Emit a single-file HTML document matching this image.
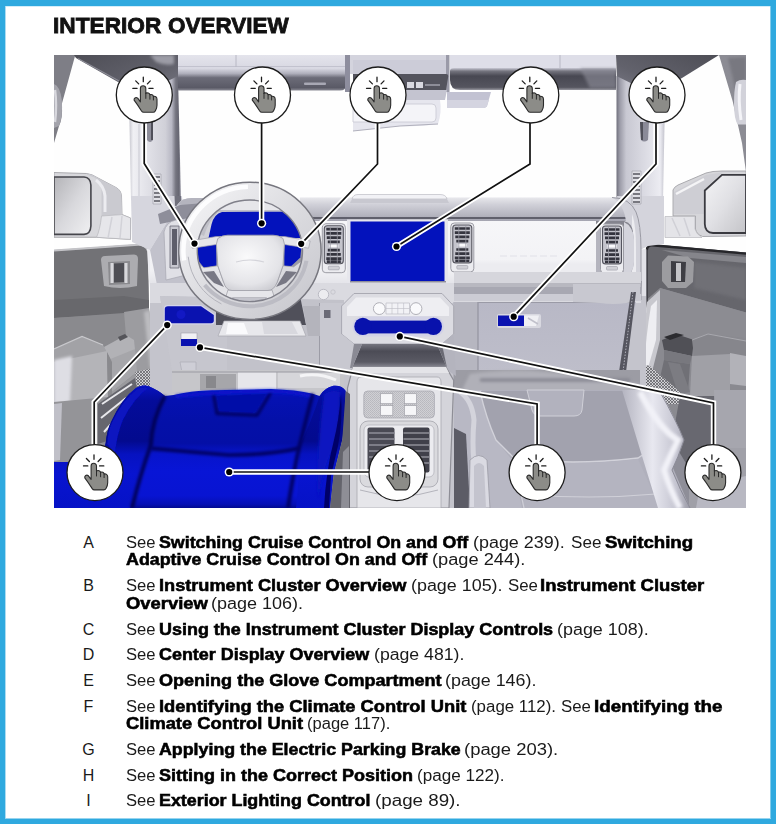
<!DOCTYPE html>
<html lang="en">
<head>
<meta charset="utf-8">
<title>Interior Overview</title>
<style>
html,body{margin:0;padding:0;}
body{width:776px;height:824px;overflow:hidden;background:#fff;position:relative;font-family:"Liberation Sans",Arial,sans-serif;color:#1a1a1a;}
#frame{position:absolute;left:0;top:0;width:776px;height:824px;}
#frame i{position:absolute;display:block;background:#2fa9df;}
h1{position:absolute;left:0;top:11.6px;margin:0;font-size:21.5px;line-height:28px;height:28px;width:400px;font-weight:bold;white-space:nowrap;color:#111;}
h1 span{position:absolute;top:0;display:block;transform-origin:0 50%;-webkit-text-stroke:0.8px #111;}
#fig{position:absolute;left:54px;top:55px;width:692px;height:453px;overflow:hidden;background:#fff;}
#fig svg{display:block;}
.ltr{position:absolute;left:80px;width:17px;text-align:center;font-size:16px;line-height:18px;}
.ln{position:absolute;left:0;font-size:16px;line-height:18px;white-space:nowrap;height:18px;width:760px;}
.ln span,.ln b,.ln i{position:absolute;top:0;display:block;transform-origin:0 50%;font-style:normal;font-weight:normal;}
.ln b{font-weight:bold;color:#000;-webkit-text-stroke:0.55px #000;}
</style>
</head>
<body>
<div id="frame"><i style="left:0;top:0;width:776px;height:6px"></i><i style="left:0;top:6px;width:776px;height:1px;background:#d3edf9"></i><i style="left:0;bottom:0;width:776px;height:5px"></i><i style="left:0;bottom:5px;width:776px;height:1px;background:#97d4ef"></i><i style="left:0;top:0;width:5px;height:824px"></i><i style="left:5px;top:6px;width:1px;height:812px;background:#acdcf2"></i><i style="right:0;top:0;width:5px;height:824px"></i><i style="right:5px;top:6px;width:1px;height:812px;background:#82cbeb"></i></div>
<h1 id="ttl"><span style="left:53.4px;transform:scaleX(1.055)">INTERIOR</span> <span style="left:167.8px;transform:scaleX(1.045)">OVERVIEW</span></h1>
<div id="fig">
<svg width="692" height="453" viewBox="54 55 692 453">
<defs>
<g id="hand">
<circle cx="0" cy="0" r="28" fill="#fff" stroke="#1c1c1c" stroke-width="1.3"/>
<path d="M-3.9,6.8 L-3.9,-6.6 A2.7,2.7 0 0 1 1.5,-6.6 L1.5,-1.6 C3.2,-2.6 5.2,-1.9 5.6,-0.3 C7.2,-1 8.8,-0.2 9.1,1.4 C10.8,0.9 12.7,2 12.7,4.2 L12.7,10.2 C12.7,13.2 11.7,14.6 10.9,16 Q10.3,17.3 8.9,17.3 L-0.6,17.3 Q-2,17.3 -2.8,16 C-4.2,13.8 -6.4,10.2 -10.2,5.2 C-10.6,3.4 -8.6,1.6 -6.6,3.2 Z" fill="#8c8c88" stroke="#2b2b2b" stroke-width="1.1" stroke-linejoin="round"/>
<path d="M1.5,-1.6 V3.4 M5.6,-0.3 V4.2 M9.1,1.4 V5" fill="none" stroke="#2b2b2b" stroke-width="1" stroke-linecap="round"/>
<path d="M-1,-17.8 V-13.3 M-11.5,-6.7 H-7.2 M4.6,-6.7 H8.8 M-8.6,-14.1 L-5.6,-11.1 M6,-14.1 L3.1,-11.1" fill="none" stroke="#1e1e1e" stroke-width="1.3" stroke-linecap="round"/>
</g>
<g id="dot"><circle r="4.6" fill="#fff"/><circle r="3.1" fill="#000"/></g>
</defs>
<defs>
<filter id="b1" filterUnits="userSpaceOnUse" x="40" y="40" width="720" height="480"><feGaussianBlur stdDeviation="0.7"/></filter>
<filter id="b2" filterUnits="userSpaceOnUse" x="40" y="40" width="720" height="480"><feGaussianBlur stdDeviation="1.6"/></filter>
<filter id="b3" filterUnits="userSpaceOnUse" x="40" y="40" width="720" height="480"><feGaussianBlur stdDeviation="3.5"/></filter>
<linearGradient id="gHdr" x1="0" y1="0" x2="0" y2="1">
<stop offset="0" stop-color="#e4e4ec"/><stop offset=".38" stop-color="#d8d8e2"/><stop offset=".52" stop-color="#b0b0bc"/><stop offset=".64" stop-color="#6c6c78"/><stop offset=".92" stop-color="#5a5a66"/><stop offset="1" stop-color="#8a8a94"/>
</linearGradient>
<linearGradient id="gHdr2" x1="0" y1="0" x2="0" y2="1">
<stop offset="0" stop-color="#e0e0ea"/><stop offset=".36" stop-color="#d4d4e0"/><stop offset=".46" stop-color="#74747e"/><stop offset=".6" stop-color="#484852"/><stop offset=".92" stop-color="#55555f"/><stop offset="1" stop-color="#9a9aa2"/>
</linearGradient>
<linearGradient id="gPilL" x1="0" y1="0" x2="1" y2="0">
<stop offset="0" stop-color="#c4c4cc"/><stop offset=".08" stop-color="#f0f0f4"/><stop offset=".3" stop-color="#e4e4ea"/><stop offset=".7" stop-color="#d0d0d8"/><stop offset=".82" stop-color="#b8b8c4"/><stop offset=".9" stop-color="#74747f"/><stop offset=".96" stop-color="#666672"/><stop offset="1" stop-color="#9a9aa6"/>
</linearGradient>
<linearGradient id="gPilR" x1="0" y1="0" x2="1" y2="0">
<stop offset="0" stop-color="#70707c"/><stop offset=".07" stop-color="#9c9ca8"/><stop offset=".2" stop-color="#c8c8d2"/><stop offset=".6" stop-color="#dcdce4"/><stop offset=".9" stop-color="#ececf2"/><stop offset="1" stop-color="#c0c0ca"/>
</linearGradient>
<linearGradient id="gRoofL" x1="0" y1="0" x2="1" y2="1">
<stop offset="0" stop-color="#4e4e56"/><stop offset=".6" stop-color="#62626c"/><stop offset="1" stop-color="#7c7c88"/>
</linearGradient>
<linearGradient id="gRoofR" x1="1" y1="0" x2="0" y2="1">
<stop offset="0" stop-color="#4e4e56"/><stop offset=".6" stop-color="#62626c"/><stop offset="1" stop-color="#80808c"/>
</linearGradient>
</defs>
<defs>
<linearGradient id="gMirL" x1="0" y1="0" x2="1" y2="1">
<stop offset="0" stop-color="#b4b4b8"/><stop offset=".5" stop-color="#d8d8dc"/><stop offset="1" stop-color="#f0f0f2"/>
</linearGradient>
<linearGradient id="gMirR" x1="0" y1="0" x2="1" y2="1">
<stop offset="0" stop-color="#f4f4f6"/><stop offset=".5" stop-color="#e0e0e4"/><stop offset="1" stop-color="#c4c4c8"/>
</linearGradient>
<linearGradient id="gDoorL" x1="0" y1="0" x2="0" y2="1">
<stop offset="0" stop-color="#b8b8bc"/><stop offset=".04" stop-color="#7c7c80"/><stop offset=".25" stop-color="#6e6e72"/><stop offset=".45" stop-color="#8a8a8e"/><stop offset="1" stop-color="#9a9a9e"/>
</linearGradient>
<linearGradient id="gDoorR" x1="0" y1="0" x2="0" y2="1">
<stop offset="0" stop-color="#3c3c40"/><stop offset=".05" stop-color="#5c5c60"/><stop offset=".25" stop-color="#77777c"/><stop offset=".5" stop-color="#7e7e84"/><stop offset="1" stop-color="#8a8a90"/>
</linearGradient>
<pattern id="mesh" width="3" height="3" patternUnits="userSpaceOnUse"><rect width="3" height="3" fill="#d0d0d4"/><path d="M0,0 L3,3 M3,0 L0,3" stroke="#55555a" stroke-width=".7"/></pattern>
</defs>
<defs>
<linearGradient id="gDashTop" x1="0" y1="0" x2="0" y2="1">
<stop offset="0" stop-color="#e8e8ec"/><stop offset=".3" stop-color="#d0d0d8"/><stop offset=".7" stop-color="#b8b8c2"/><stop offset="1" stop-color="#a4a4b0"/>
</linearGradient>
<linearGradient id="gDashFace" x1="0" y1="0" x2="0" y2="1">
<stop offset="0" stop-color="#f8f8fa"/><stop offset=".7" stop-color="#f2f2f5"/><stop offset="1" stop-color="#d4d4dc"/>
</linearGradient>
<linearGradient id="gGlove" x1="0" y1="0" x2="0" y2="1">
<stop offset="0" stop-color="#b8b8c6"/><stop offset="1" stop-color="#bebeca"/>
</linearGradient>
<linearGradient id="gCubby" x1="0" y1="0" x2="0" y2="1">
<stop offset="0" stop-color="#74747e"/><stop offset=".3" stop-color="#4c4c56"/><stop offset=".75" stop-color="#5a5a64"/><stop offset="1" stop-color="#90909a"/>
</linearGradient>
<g id="vent">
<rect x="0" y="0" width="23" height="49" rx="3.500" fill="#ececf0" stroke="#9c9ca4" stroke-width="1"/>
<rect x="2" y="2" width="19" height="38" rx="3" fill="#c4c4cc" stroke="#55555f" stroke-width="1.100"/>
<path d="M4,5.500 H19 M4,9.700 H19 M4.500,13.900 H18.500 M5.500,18.100 H17.500 M5.500,26.500 H17.500 M4.500,30.700 H18.500 M4,34.900 H19 M4.500,38 H18.500" stroke="#34343e" stroke-width="2.700"/>
<path d="M7,22.300 H16" stroke="#fafafc" stroke-width="2.600"/>
<path d="M8,3 V39 M15,3 V39" stroke="#9a9aa4" stroke-width=".8"/>
<rect x="6" y="42.500" width="11" height="3.600" rx="1" fill="#d0d0d6" stroke="#9a9aa4" stroke-width=".6"/>
</g>
</defs>
<defs>
<linearGradient id="gRim" x1="0" y1="0" x2="1" y2="1">
<stop offset="0" stop-color="#f4f4f6"/><stop offset=".5" stop-color="#dcdce0"/><stop offset="1" stop-color="#c8c8ce"/>
</linearGradient>
<radialGradient id="gHub" cx=".45" cy=".4" r=".7">
<stop offset="0" stop-color="#fafafb"/><stop offset=".7" stop-color="#e4e4e8"/><stop offset="1" stop-color="#c8c8ce"/>
</radialGradient>
<linearGradient id="gSeatB" gradientUnits="userSpaceOnUse" x1="0" y1="386" x2="0" y2="508">
<stop offset="0" stop-color="#0814c8"/><stop offset=".1" stop-color="#0511b2"/><stop offset=".3" stop-color="#0410a8"/><stop offset=".47" stop-color="#040fa6"/><stop offset=".56" stop-color="#0714cc"/><stop offset=".7" stop-color="#0815d6"/><stop offset=".9" stop-color="#0814d2"/><stop offset=".97" stop-color="#0610b4"/><stop offset="1" stop-color="#020a90"/>
</linearGradient>
<linearGradient id="gBol" gradientUnits="userSpaceOnUse" x1="0" y1="386" x2="0" y2="508">
<stop offset="0" stop-color="#0812c0"/><stop offset=".12" stop-color="#040c9a"/><stop offset=".45" stop-color="#030a8e"/><stop offset=".56" stop-color="#0612c0"/><stop offset=".72" stop-color="#0814d0"/><stop offset="1" stop-color="#0612c6"/>
</linearGradient>
<linearGradient id="gSeatP" x1="0" y1="0" x2="0" y2="1">
<stop offset="0" stop-color="#9e9eaa"/><stop offset=".3" stop-color="#a8a8b4"/><stop offset="1" stop-color="#b0b0bc"/>
</linearGradient>
<linearGradient id="gBolR" x1="0" y1="0" x2="1" y2="0">
<stop offset="0" stop-color="#b4b4c0"/><stop offset=".45" stop-color="#e8e8f0"/><stop offset=".8" stop-color="#c4c4d0"/><stop offset="1" stop-color="#9a9aa6"/>
</linearGradient>
<pattern id="tex" width="2" height="2" patternUnits="userSpaceOnUse"><rect width="2" height="2" fill="#d0d0d4"/><rect width="1" height="1" fill="#b8b8be"/><rect x="1" y="1" width="1" height="1" fill="#bcbcc2"/></pattern>
</defs>
<g id="top">
<rect x="54" y="55" width="692" height="453" fill="#fefefe"/>
<!-- left door frame strip -->
<path d="M54,55 H75.300 L61.800,104 Q63,118 59,126 L54,143 Z" fill="#7e7e86"/>
<path d="M54,84 Q60,86 61.800,100 Q63,116 59,126 L54,128 Z" fill="#a4a4ac"/>
<path d="M55,90 Q57,105 55,122" stroke="#d8d8de" stroke-width="2.500" fill="none" filter="url(#b1)"/>
<!-- left roof dark band -->
<path d="M74,55 H178 V78 L172,100 L118,82 L76,58 Z" fill="url(#gRoofL)"/>
<path d="M150,55 H174 V64 Q166,66 156,62 Z" fill="#9c9ca6" filter="url(#b2)"/>
<path d="M78,58.500 L120,81.500" stroke="#8c8c96" stroke-width="1.200" fill="none"/>
<!-- left A pillar upper -->
<path d="M129,100 L178,76 L181,200 L131,200 Z" fill="url(#gPilL)"/>
<path d="M147,122 h6 v18 q-3,4 -6,0 Z" fill="#8e8e9a" filter="url(#b1)"/>
<path d="M151,122 h2 v18 h-2 Z" fill="#50505a"/>
<path d="M139,124 V200" stroke="#c0c0ca" stroke-width=".8"/>
<!-- header left -->
<path d="M178,55 H346 V85 Q346,90.500 340,90.500 H178 Z" fill="url(#gHdr)"/>
<path d="M178,66.500 H346" stroke="#c2c2ce" stroke-width="1" fill="none"/>
<path d="M236,55 V67" stroke="#b8b8c4" stroke-width="1" fill="none"/>
<rect x="304" y="82.500" width="22" height="2.500" rx="1" fill="#a8a8b4"/>
<!-- overhead console -->
<path d="M345,55 H448 V74 H345 Z" fill="#d4d4de"/>
<path d="M345,55 H350 V92 H345 Z" fill="#8e8e9e"/><path d="M446,55 H449.500 V92 H446 Z" fill="#9a9aa8"/>
<path d="M353,60 H446 V78 H353 Z" fill="#ccccd8"/>
<path d="M353,74 H446 Q449,74 448,78 L446,90 H353 Z" fill="#54545e"/>
<rect x="407" y="82" width="7" height="6" fill="#d8d8e0"/><rect x="416" y="82" width="7" height="6" fill="#d8d8e0"/>
<path d="M425,85 H440" stroke="#a0a0ac" stroke-width="1.500"/>
<path d="M353,90 H447 L445,100 H353 Z" fill="#c4c4d0"/>
<path d="M353,100 H440 Q442,112 438,124 Q420,127 400,126 L353,131 Z" fill="#e6e6ee"/>
<path d="M353,104 H432 Q436,104 436,108 V118 Q436,122 432,122 H353 Z" fill="#f4f4f8" stroke="#c8c8d2" stroke-width=".8"/>
<path d="M353,131 L400,126 L438,124" stroke="#b0b0bc" stroke-width="1" fill="none"/>
<!-- mirror back right of console -->
<path d="M447,92 H491 L487,106 Q486,108 482,108 H447 Z" fill="#c2c2d2"/>
<path d="M447,100 H489 L487,106 Q486,108 482,108 H447 Z" fill="#d4d4e0"/>
<!-- header right -->
<path d="M456,55 H616 V90 H462 Q450,91 450,80 V70 Q450,66 456,66 Z" fill="url(#gHdr2)"/>
<path d="M450,55 H616 V68 H454 Q450,68 450,71 Z" fill="#dedee8"/>
<path d="M560,55 V68" stroke="#b8b8c4" stroke-width="1" fill="none"/>
<path d="M580,68 H616 V88 H590 Z" fill="#8e8e9a" opacity=".6" filter="url(#b2)"/>
<!-- right roof dark band -->
<path d="M616,55 H719 L682,78 L640,100 L618,100 Z" fill="url(#gRoofR)"/>
<!-- right A pillar upper -->
<path d="M616.500,76 L665,100 L663,200 L616.500,200 Z" fill="url(#gPilR)"/>
<path d="M640,122 h9 l-1,18 q-4,3 -7,0 Z" fill="#8a8a98" filter="url(#b1)"/>
<path d="M640,122 h3 l0,18 h-2 Z" fill="#50505a"/>
<!-- right door frame -->
<path d="M719,55 H746 V172 L742,143 L732.600,101 Z" fill="#8c8c94"/>
<path d="M728,58 L746,57 V80 L736,92 Z" fill="#787880" filter="url(#b2)"/>
<path d="M736,82 Q734,90 734,104 Q734,120 738,124.500 H746 V80 Q740,79 736,82 Z" fill="#d2d2da"/>
<path d="M740,84 Q738,100 741,120" stroke="#f4f4f8" stroke-width="3" fill="none" filter="url(#b1)"/>
</g>
<g id="sides">
<!-- LEFT MIRROR -->
<path d="M54,172.500 L86.600,173.500 Q92,174 98,178 L116,187.500 Q121,190 121.500,196 L122,214.600 L130.500,218 V239.400 L96.500,237.300 H54 Z" fill="#d8d8dc" stroke="#9a9aa0" stroke-width=".8"/>
<path d="M86.600,173.500 Q92,174 98,178 L116,187.500 Q121,190 121.500,196 L122,214.600 L101.500,216 V188 Q100,178 90,176 Z" fill="#cacad0"/>
<path d="M96,180 Q104,186 105,196 V212" stroke="#ececf0" stroke-width="3" fill="none" filter="url(#b1)"/>
<path d="M54,177 H84 Q90.500,177.500 90.900,185 V226 Q90.500,234 84,234.400 H54 Z" fill="url(#gMirL)" stroke="#46464c" stroke-width="1.600"/>
<path d="M101.500,216 L122,214.600 L130.500,218 V239.400 L96.500,237.300 Q100,230 101.500,216 Z" fill="#e6e6ea" stroke="#b0b0b6" stroke-width=".6"/>
<path d="M112,217 L108,238 M122,216 L120,238" stroke="#d2d2d8" stroke-width="1.500"/>
<!-- LEFT DOOR -->
<path d="M54,250 L138,244.200 Q146,244 148,251 L149,310 L160,394 L150,430 L96,462 L54,462 Z" fill="#8c8c90"/>
<!-- upper dark -->
<path d="M54,251 L138,245.200 Q146,245 147.500,251 L149,308 L124,312 L54,316 Z" fill="#727276"/>
<path d="M54,300 L124,296 L149,300 L149,310 L124,314 L54,318 Z" fill="#68686c" filter="url(#b1)"/>
<path d="M54,250.500 L138,244.700 Q146,244.500 148,251" stroke="#c4c4c8" stroke-width="2" fill="none"/>
<!-- door handle recess -->
<path d="M101,260 Q101,256 105,256 L134,254.500 Q138,254.500 138,259 L137,286 Q120,290 104,286 Z" fill="#acacb0"/>
<path d="M108,262 L130,261 L130,284 L109,285 Z" fill="#8a8a8e"/>
<path d="M114,263.500 L124,263 L124,282 L114,282.500 Z" fill="#4e4e54"/>
<path d="M110.500,263 h3 v20 h-3z M124.500,263 h3 v20 h-3z" fill="#d8d8dc"/>
<!-- mid panel -->
<path d="M54,318 L124,313 L126,336 L104,350 L88,338 L54,350 Z" fill="#8a8a8e"/>
<!-- lighter front-lower part -->
<path d="M124,312 L149,308 L158,372 L135,372 L133,348 L126,336 Z" fill="#9c9ca0"/>
<path d="M144,312 L150,310 L157,368 L150,368 Z" fill="#bcbcc0" filter="url(#b2)"/>
<!-- armrest -->
<path d="M54,349 L82,336.500 L103,345 L107,352 L54,366 Z" fill="#a2a2a6"/>
<path d="M54,349 L82,336.500 L103,345" stroke="#c8c8cc" stroke-width="1.200" fill="none"/>
<path d="M54,362 L107,351 L108,398 L54,404 Z" fill="#b4b4b8"/>
<path d="M54,360 L72,356 L70,402 L54,404 Z" fill="#dedee4" filter="url(#b2)"/>
<path d="M54,402 L108,397 L100,462 L54,462 Z" fill="#949498"/>
<path d="M54,404 L62,403 L60,460 L54,461 Z" fill="#c0c0c8" filter="url(#b1)"/>
<!-- door pull -->
<path d="M104,347 L126,335 L134,340 L135,350 L112,362 Z" fill="#b2b2b6"/>
<path d="M118,337 L125,334 L128,337 L120,341 Z" fill="#55555a"/>
<path d="M108,360 L135,349 L137,372 L112,392 Z" fill="#a6a6aa"/>
<path d="M107,352 L112,362 L112,394 L108,400 Z" fill="#8a8a8e"/>
<!-- lower door -->
<path d="M112,392 L137,372 L140,394 L112,400 Z" fill="#9a9a9e"/>
<!-- door pocket mesh -->
<path d="M135,372 L154,368 L158,394 L138,396 Z" fill="url(#mesh)"/>
<path d="M138,394 L110,440 L98,444 L98,404 L135,378 Z" fill="#66666e"/>
<path d="M102,404 L132,384 M101,418 L126,398 M104,432 L120,414" stroke="#e8e8ec" stroke-width="2" fill="none" filter="url(#b1)"/>
<!-- left jamb -->
<path d="M147,249 L153,247 Q160,300 168,394 L159,394 Q156,330 149,281 Z" fill="#ececf0"/>
<path d="M153,247 L157,247 Q163,300 171,394 L167,394 Q160,310 153,247 Z" fill="#c0c0c8"/>

<!-- RIGHT MIRROR -->
<path d="M673,190 Q674,187 678,185 L706,173 Q712,171 722,171 H746 V236 L702.600,236.500 Q696,234 695.500,229 V216 H673 Z" fill="#d6d6da" stroke="#9a9aa0" stroke-width=".8"/>
<path d="M674,192 L706,175 L722,172.500 L704,189 V214 H674 Z" fill="#ceced4"/>
<path d="M676,194 L704,179" stroke="#f4f4f6" stroke-width="2.500" filter="url(#b1)"/>
<path d="M746,174.800 H722 L704.800,190.500 V224 Q705,232.800 713,233 H746 Z" fill="url(#gMirR)" stroke="#3a3a40" stroke-width="1.800"/>
<path d="M665,216.500 H695 V229 Q696,234 702,237.500 H665 Z" fill="#e4e4e8" stroke="#b0b0b6" stroke-width=".6"/>
<path d="M672,218 L680,236 M684,218 L690,236" stroke="#d0d0d6" stroke-width="1.500"/>
<!-- RIGHT DOOR -->
<path d="M646.300,249 Q647,244 652,244.300 L746,252.600 V508 H690 L660,400 L640,400 L638,363 Q642,330 646.300,312 Z" fill="#8a8a90"/>
<!-- upper dark band -->
<path d="M646.300,249 Q647,244 652,244.300 L746,252.600 V312.600 L660,288 L646.300,300 Z" fill="#66666c"/>
<path d="M694,262 L746,268 V300 L694,288 Z" fill="#707076" filter="url(#b2)"/>
<path d="M662,250 L746,257 V263 L690,258 Z" fill="#85858b" filter="url(#b1)"/>
<path d="M646.800,250 Q647.500,245 652,245.300 L746,253.600" stroke="#26262a" stroke-width="2.400" fill="none"/>
<path d="M647,250 V310" stroke="#3a3a40" stroke-width="1.600"/>
<!-- handle bezel -->
<path d="M662,262 L668,255.500 L688,256.500 L694,262 L693,282 L686,288 L668,288 L662,281 Z" fill="#9c9ca0"/>
<path d="M671,261 L686,262 L685,282 L671,282 Z" fill="#3e3e44"/>
<path d="M676,263 h5 v18 h-5z" fill="#c4c4c8"/>
<!-- mid -->
<path d="M660,288 L746,312.600 V338 L708,334 L692,340 L676,334 L660,338 Z" fill="#8c8c92"/>
<!-- light front edge strip -->
<path d="M647,302 L660,290 L660,340 L652,372 L639,372 Q641,335 647,302 Z" fill="#c8c8ce"/>
<path d="M651,306 L657,300 L656,340 L648,368 L644,368 Q646,335 651,306 Z" fill="#eeeef2" filter="url(#b1)"/>
<!-- door pull dark -->
<path d="M662,340 L676,334 L694,340 L692,356 L664,350 Z" fill="#505056"/>
<path d="M664,337 L676,333 L684,335 L670,340 Z" fill="#2c2c30"/>
<path d="M664,350 L692,356 L690,364 L664,360 Z" fill="#78787e"/>
<!-- armrest -->
<path d="M692,340 L708,334 L746,341 V358 L694,356 Z" fill="#86868c"/>
<path d="M692,340 L708,334 L746,341" stroke="#a8a8ae" stroke-width="1" fill="none"/>
<path d="M730,353 L746,356 V386 L730,384 Z" fill="#b2b2b8"/>
<path d="M692,356 L730,354 L730,396 L690,396 Z" fill="#a0a0a6"/>
<!-- strap / dark lower-left -->
<path d="M664,360 L690,364 L688,392 L672,394 L660,378 Z" fill="#707076"/>
<path d="M668,362 L680,364 L690,392 L678,394 Z" fill="#7c7c82"/>
<!-- mesh -->
<path d="M638,363 L650,366 L680,392 L690,404 H640 Z" fill="url(#mesh)"/>
<!-- lower door -->
<path d="M664,420 L692,440 L692,508 H664 Z" fill="#8e8e98"/>
<path d="M680,396 L714,396 L716,448 L690,470 L672,440 Z" fill="#686870"/>
<path d="M714,390 H746 V450 H716 Z" fill="#a6a6ae"/>
<path d="M689,470 L716,448 H746 V508 H689 Z" fill="#a0a0a8"/>
<path d="M700,486 L746,476 V508 H696 Z" fill="#b8b8c2" filter="url(#b1)"/>
<!-- right jamb -->
<path d="M634,250 L646.300,249 V312 Q642,330 638,363 L630,372 Z" fill="#e2e2e8"/>
<path d="M638,281 L642,281 Q640,320 634,366 L630,370 Z" fill="#a0a0aa"/>
</g>
<g id="dash">
<path d="M150,296 H646 V508 H150 Z" fill="#c4c4cc"/>
<!-- lower pillar left & right continuing -->
<path d="M131,196 L182,196 L186,250 L150,250 L132,242 Z" fill="#d6d6de"/>
<path d="M174.500,196 L181,196 L181.500,205 L175,206 Z" fill="#70707c"/>
<path d="M153,174 h8 v30 h-8z" fill="#e0e0e6" stroke="#9a9aa4" stroke-width=".6"/>
<path d="M154,177 h6 M154,181 h6 M154,185 h6 M154,189 h6 M154,193 h6 M154,197 h6 M154,201 h6" stroke="#55555f" stroke-width="1.600"/>
<path d="M617,196 L664,196 L664,244 L648,246 L640,250 L622,250 Z" fill="#d4d4dc"/>
<path d="M632,171 h9 v33 h-9z" fill="#e0e0e6" stroke="#9a9aa4" stroke-width=".6"/>
<path d="M633,174 h7 M633,178 h7 M633,182 h7 M633,186 h7 M633,190 h7 M633,194 h7 M633,198 h7 M633,202 h7" stroke="#55555f" stroke-width="1.600"/>
<!-- dash main body -->
<path d="M150,250 L178,204 Q182,198 192,198 L300,197.500 H612 Q630,198 636,212 Q641,224 641,250 L641,300 L150,300 Z" fill="url(#gDashFace)"/>
<!-- dash top band -->
<path d="M300,197.500 H612 Q626,198 632,206 L637,221 H300 Z" fill="url(#gDashTop)"/>
<path d="M358,194.500 H440 Q446,194.500 447,199 H352 Q353,194.500 358,194.500 Z" fill="#f2f2f6" stroke="#b4b4bc" stroke-width=".6"/>
<path d="M352,199 H447 L449,203 H350 Z" fill="#c8c8d0"/>
<path d="M310,218 H631" stroke="#60606c" stroke-width="2" fill="none"/>
<!-- left of wheel dash -->
<path d="M150,250 L178,204 Q182,198 192,198 L230,198 L200,230 L190,300 L160,300 Z" fill="#c2c2cc"/>
<path d="M178,204 Q182,198 192,198 L230,198 L222,204 L186,206 Z" fill="#b4b4be"/>
<path d="M158,214 L180,205 L204,203 L198,216 L160,224 Z" fill="#8e8e9a" filter="url(#b1)"/>
<path d="M164,232 Q166,222 176,220 L190,222 L186,275 L166,280 Z" fill="#e0e0e6" stroke="#a8a8b2" stroke-width=".7"/>
<path d="M170,226 h9 v42 h-9z" fill="#c8c8d0" stroke="#6a6a76" stroke-width=".8"/>
<path d="M172,229 h5 v36 h-5z" fill="#5e5e6a"/>
<path d="M186,226 L196,224 L198,270 L188,276 Z" fill="#babac4"/>
<!-- dash right end cap -->
<path d="M612,197.500 Q630,198 636,212 Q641,224 641,250 V300 H626 V222 Q624,204 612,197.500 Z" fill="#d2d2da"/>
<path d="M632,214 Q636,224 636,250 V296 H632 Z" fill="#ececf0" filter="url(#b1)"/>
<path d="M612,197.500 Q630,198 636,212 Q641,224 641,250 V300" stroke="#9a9aa4" stroke-width="1" fill="none"/>
<!-- passenger dash face subtle -->
<path d="M500,256 h60" stroke="#e2e2e8" stroke-width="1.200" stroke-dasharray="7 3"/>
<path d="M454,262 H626 V274 H454 Z" fill="#ececf0" filter="url(#b2)"/>
<!-- center screen -->
<rect x="347" y="219.500" width="101" height="64" fill="#e6e6ec"/>
<rect x="350.500" y="221.500" width="94" height="59.500" fill="#0312bc"/>
<path d="M350,281.800 H446" stroke="#8e8e9a" stroke-width="1.400"/>
<!-- vents -->
<use href="#vent" x="322.300" y="223.700"/>
<use href="#vent" x="450.800" y="223"/>
<path d="M596,221 H624 Q633,224 634,240 V262 Q633,276 622,279 H596 Z" fill="#b4b4be"/>
<path d="M596,221 H624 Q632,223 633,232 L596,228 Z" fill="#84848e" filter="url(#b1)"/>
<path d="M624,222 Q633,226 634,240 V262 Q633,274 624,278 Z" fill="#d4d4dc"/>
<use href="#vent" x="600.500" y="224"/>

<!-- lower dash bands -->
<path d="M150,283 H641 V303 H150 Z" fill="#dadae0"/>
<path d="M454,272 H641 V284 H454 Z" fill="#d6d6dc"/>
<path d="M454,283 H641 V294.500 H454 Z" fill="#a8a8b2"/>
<path d="M454,283 H641 V287 H454 Z" fill="#b8b8c0" filter="url(#b1)"/>
<path d="M454,294 H641 V301 H454 Z" fill="#ccccd4"/>
<path d="M303,301.500 H344" stroke="#f2f2f6" stroke-width="2.400"/>
<path d="M303,303.500 H344" stroke="#a8a8b2" stroke-width="1"/>
<path d="M300,304 H344 V312 H300 Z" fill="#b8b8c0"/>
<!-- knee panel driver side -->
<path d="M160,296 L344,300 V372 L172,372 Z" fill="#c2c2ca"/>
<path d="M160,296 L227,298 V372 H172 Z" fill="#c6c6ce"/>
<path d="M319.500,303 V372" stroke="#9c9ca6" stroke-width="1"/>
<path d="M320,303 H344 V372 H320 Z" fill="#c8c8d0"/>
<rect x="324" y="310" width="6.500" height="8" fill="#6a6a76"/>
<circle cx="323.500" cy="294.500" r="5.200" fill="#ececf0" stroke="#b0b0ba" stroke-width=".8"/>
<circle cx="333" cy="292" r="2.200" fill="none" stroke="#c0c0c8" stroke-width=".8"/>
<!-- blue button panel -->
<path d="M167.500,305 H201.500 L214.800,314.200 V321 Q214.800,324.500 211,324.500 H167.500 Q163.800,324.500 163.800,321 V308.500 Q163.800,305 167.500,305 Z" fill="#d4d4ea"/>
<path d="M168,306.200 H201 L213.800,315 V320.500 Q213.800,323.200 211,323.200 H168 Q164.800,323.200 164.800,320.500 V309 Q164.800,306.200 168,306.200 Z" fill="#0a12b0"/>
<circle cx="181" cy="314.500" r="4.500" fill="#1218c4"/>
<!-- small switch -->
<rect x="181" y="333" width="16" height="7" fill="#f0f0f4" stroke="#a0a0aa" stroke-width=".6"/>
<rect x="181" y="339" width="16" height="7" fill="#0a12b0"/>
<path d="M180,362 h16 v10 h-14z" fill="#ceced6" stroke="#a8a8b2" stroke-width=".6"/>
<!-- glove box region -->
<path d="M453.500,302 H636 L622,372 H453.500 Z" fill="url(#gGlove)"/>
<path d="M453.500,302 H478 V372 H453.500 Z" fill="#b6b6c0"/>
<path d="M478,302 V372" stroke="#8c8c98" stroke-width="1"/>
<path d="M478,302.500 H632" stroke="#9a9aa6" stroke-width="1"/>
<path d="M573,284 H640 V300 Q620,306 600,303 L573,302 Z" fill="#c8c8d0"/>
<!-- glove handle -->
<rect x="497" y="314" width="44" height="14" rx="2" fill="#d8d8e0"/>
<rect x="498" y="315.500" width="26" height="10.500" fill="#0a12b0"/>
<path d="M524,315.500 H539 L536,326 H524 Z" fill="#f0f0f4"/>
<path d="M528,318 L538,324" stroke="#c0c0ca" stroke-width="1.500"/>
<!-- net right of glove box -->
<path d="M631,292 L636,292 L626,372 L619,372 Z" fill="#55555f"/>
<path d="M633,292 L623,372" stroke="#b0b0ba" stroke-width="1" stroke-dasharray="1.500 1.500"/>
<!-- kick area under glovebox -->
<path d="M453.500,370 H640 V394 H453.500 Z" fill="#9c9ca4"/>
<path d="M470,374 Q520,366 580,376 L640,384 V394 H460 Z" fill="#b0b0b8" filter="url(#b2)"/>
<path d="M480,380 H630" stroke="#84848e" stroke-width="3" filter="url(#b2)"/>
<!-- driver footwell -->
<path d="M172,370 H344 V392 H172 Z" fill="#c6c6ca"/>
<path d="M200,374 H236 V390 H200 Z" fill="#a6a6aa"/>
<path d="M206,376 h10 v12 h-10z" fill="#88888c"/>
<path d="M238,372 H276 V390 H238 Z" fill="#e6e6ea"/>
<path d="M278,372 H340 V388 H278 Z" fill="#d6d6da"/>
<path d="M300,376 Q318,372 336,380" stroke="#f4f4f6" stroke-width="3" fill="none" filter="url(#b1)"/>
<path d="M172,372 H344" stroke="#9a9aa2" stroke-width="1"/>
</g>
<g id="wheel">
<!-- dark shadow behind wheel bottom / column -->
<path d="M216,300 L300,296 L306,325 L216,325 Z" fill="#50505a"/>
<!-- inside-rim background -->
<ellipse cx="249.900" cy="250.800" rx="55" ry="53" fill="#d2d2d8"/>
<!-- hood above cluster -->
<path d="M196,232 Q204,206 226,202 H278 Q298,206 306,228 L292,212 H218 Q208,222 204,236 Z" fill="#c0c0c8"/>
<path d="M212,205 Q250,196 290,205 L292,210 H214 Z" fill="#e6e6ea"/>
<!-- instrument cluster blue upper -->
<path d="M208.500,238 L211.500,224.500 Q214,214 222,212 L290,211.700 Q294,212 296.800,219.300 L306.100,229.600 L304.400,238 Z" fill="#0312bc"/>
<!-- lower openings: gray stuff -->
<path d="M194,246 L217,244 L232,296 L206,290 L194,268 Z" fill="#a2a2ac"/>
<path d="M306,246 L283,244 L268,296 L294,290 L306,268 Z" fill="#9a9aa4"/>
<!-- lower blue bits -->
<path d="M194.700,247.200 L216.400,243.500 V265.700 L204,267.800 L195.800,257.500 Z" fill="#0312bc"/>
<path d="M284.400,243.500 L301.400,247.200 L300.300,257.500 L291.600,265.700 L284.400,266.800 Z" fill="#0312bc"/>
<!-- column shroud below wheel -->
<path d="M224,321 H300 L306,336 H218 Z" fill="#e8e8ec" stroke="#a8a8b0" stroke-width=".7"/>
<path d="M228,323 h16 l4,11 h-22z" fill="#fafafc"/>
<path d="M262,322 h30 l6,12 h-34z" fill="#d8d8de"/>
<path d="M303,306 L320,306 V336 L308,336 Z" fill="#b4b4bc"/>
<!-- lower side spokes -->
<path d="M217.800,265.700 L204,267.800 L196.500,262 L197.800,273 L207.100,285.500 L225.700,299.500 L231,291 L223.600,282.200 Z" fill="#e4e4e8" stroke="#9c9ca4" stroke-width=".7"/>
<path d="M283,265.700 L293.700,266.800 L301.500,261 L300.900,273 L292.700,285.500 L275.200,299.500 L270,291 L277.200,282.200 Z" fill="#dadade" stroke="#9c9ca4" stroke-width=".7"/>
<path d="M203,272 L214,271 L224,287 L214,283 Z" fill="#787884"/>
<path d="M297,272 L286,271 L276,287 L286,283 Z" fill="#787884"/>
<!-- lower center spoke -->
<path d="M228,290 H272 L279,311 H221 Z" fill="#e6e6ea" stroke="#9c9ca4" stroke-width=".7"/>
<path d="M232.500,297.500 H266.500 L262,305.500 H237 Z" fill="#c4c4cc" stroke="#a0a0a8" stroke-width=".5"/>
<!-- rim -->
<ellipse cx="249.900" cy="250.800" rx="61.900" ry="59.700" fill="none" stroke="url(#gRim)" stroke-width="18.200"/>
<ellipse cx="249.900" cy="250.800" rx="71.200" ry="68.600" fill="none" stroke="#76767e" stroke-width="1.500"/>
<ellipse cx="249.900" cy="250.800" rx="52.600" ry="50.800" fill="none" stroke="#80808a" stroke-width="1.400"/>
<ellipse cx="249.900" cy="250.800" rx="66.500" ry="64" fill="none" stroke="#fdfdfe" stroke-width="4.500" stroke-dasharray="110 300" stroke-dashoffset="-195"/>
<ellipse cx="249.900" cy="250.800" rx="57.500" ry="55.400" fill="none" stroke="#bcbcc4" stroke-width="4" stroke-dasharray="130 240" stroke-dashoffset="-10"/>
<ellipse cx="249.900" cy="250.800" rx="62" ry="59.800" fill="none" stroke="#b4b4bc" stroke-width="1" stroke-dasharray="60 330" stroke-dashoffset="-125"/>
<!-- horizontal spokes -->
<path d="M190.600,241 L216.400,236.500 L284.400,236.500 L310.200,241 L308.600,248.200 L284.400,244.500 L216.400,244.500 L192.300,248.200 Z" fill="#e6e6ea" stroke="#a4a4ac" stroke-width=".7"/>
<!-- hub -->
<path d="M216.400,244.100 L217.800,238.500 Q222,235.200 227.700,235.200 L273.100,235.200 Q279,235.200 283,238.500 L284.400,244.100 L283,265.700 L277.200,282.200 Q274,290.500 268,290.500 L232,290.500 Q226,290.500 223.600,282.200 L217.800,265.700 Z" fill="url(#gHub)" stroke="#a4a4ac" stroke-width=".9"/>
<path d="M236,262 Q250,258 264,262" stroke="#d4d4da" stroke-width="1.200" fill="none"/>
</g>
<g id="console">
<!-- center stack bezel -->
<path d="M341.600,306 L354,293.500 H442 L453.700,306 V334 L442,344 H354 L341.600,334 Z" fill="#dcdce2" stroke="#a4a4ae" stroke-width=".9"/>
<path d="M347,307 L356,297.500 H440 L449,307 V316 H347 Z" fill="#eeeef2"/>
<circle cx="379.300" cy="308.600" r="5.900" fill="#fafafc" stroke="#a8a8b0" stroke-width=".9"/>
<circle cx="416" cy="308.600" r="5.900" fill="#fafafc" stroke="#a8a8b0" stroke-width=".9"/>
<path d="M386,303 h23.500 v11 h-23.500z" fill="#f2f2f6" stroke="#bcbcc4" stroke-width=".7"/>
<path d="M392,303 v11 M397.800,303 v11 M403.600,303 v11 M386,308.500 h23.500" stroke="#bcbcc4" stroke-width=".6"/>
<!-- climate blue bar -->
<rect x="352.500" y="316.500" width="91.500" height="20" rx="9.500" fill="#d2d2e6"/>
<rect x="362" y="320.600" width="72" height="12.800" fill="#0812ac"/>
<circle cx="362.900" cy="326.400" r="8.600" fill="#0812ac"/>
<circle cx="433.400" cy="326.400" r="8.600" fill="#0812ac"/>
<!-- cubby -->
<path d="M341.600,334 L354,344 L350,370 L340,376 Z" fill="#c8c8d0"/>
<path d="M453.700,334 L442,344 L447,370 L456,376 Z" fill="#b4b4be"/>
<path d="M362,344 H437 L447,368 H352 Z" fill="url(#gCubby)"/>
<path d="M354,344 H362 L352,368 H350 Z" fill="#8a8a94"/>
<path d="M437,344 H442 L447,368 Z" fill="#6a6a74"/>
<!-- console body -->
<path d="M353,367 H446 L453.700,380.500 L449,508 H349 L347.500,388 Z" fill="#d4d4da" stroke="#8e8e96" stroke-width="1.200"/>
<path d="M353,367 H446 L449,373 H351 Z" fill="#e4e4e8"/>
<path d="M361,377 H437 Q441,377 441,382 V508 H357 V382 Q357,377 361,377 Z" fill="#e6e6ea" stroke="#a8a8b0" stroke-width=".8"/>
<!-- window switch panel -->
<rect x="363.800" y="391" width="70.600" height="27" rx="4" fill="url(#tex)" stroke="#a4a4ac" stroke-width=".7"/>
<rect x="380.600" y="393.700" width="12.200" height="10" fill="#f6f6f8" stroke="#a0a0a8" stroke-width=".7"/>
<rect x="380.600" y="405.600" width="12.200" height="9.700" fill="#f6f6f8" stroke="#a0a0a8" stroke-width=".7"/>
<rect x="404.400" y="393.700" width="12.200" height="10" fill="#f6f6f8" stroke="#a0a0a8" stroke-width=".7"/>
<rect x="404.400" y="405.600" width="12.200" height="9.700" fill="#f6f6f8" stroke="#a0a0a8" stroke-width=".7"/>
<!-- rear vent -->
<rect x="360" y="421" width="78" height="66" rx="8" fill="#dadade" stroke="#a4a4ac" stroke-width=".8"/>
<rect x="364" y="425" width="70" height="52" rx="5" fill="#ececf0" stroke="#b0b0b8" stroke-width=".7"/>
<rect x="367.500" y="427.600" width="27" height="45" rx="2" fill="#4a4a54"/>
<rect x="403" y="427.600" width="26.500" height="45" rx="2" fill="#40404a"/>
<path d="M369,433 h26 M369,439 h26 M369,445 h26 M369,451 h26 M369,457 h26 M403.500,433 h26 M403.500,439 h26 M403.500,445 h26 M403.500,451 h26 M403.500,457 h26 M403.500,463 h26" stroke="#8e8e98" stroke-width="1.300"/>
<path d="M360,490 Q400,502 438,490" stroke="#b4b4bc" stroke-width="1" fill="none"/>
</g>
<g id="seats">
<!-- driver seat blue -->
<path d="M54,462 H100 Q104,452 105.700,443 Q107,430 111,422 Q122,398 136,388 Q142,384.500 148,386 Q158,390 165,396 L173.500,395 Q190,391 211.800,390.200 L270.900,389.100 Q296,390 312.700,393.700 L319.600,396 Q324,388 333.600,385.700 Q342,385 345.700,391 Q345,420 342.300,439.600 L333.600,474.400 L330,508 H54 Z" fill="url(#gSeatB)"/>
<!-- right bolster -->
<path d="M319.600,396 Q324,388 333.600,385.700 Q342,385 345.700,391 Q345,420 342.300,439.600 L333.600,474.400 L330,508 H296 Q300,470 298.800,448.300 Q312,420 319.600,396 Z" fill="url(#gBol)"/>
<path d="M324,394 Q332,388 340,392 Q340,420 334,446 Q322,470 318,500 Q316,450 324,394 Z" fill="#0814c0" filter="url(#b2)"/>
<path d="M341,394 Q343,420 338,446 L331,476 L329,508 H324 Q326,470 334,440 Q339,420 341,394 Z" fill="#010668" filter="url(#b1)"/>
<!-- left bolster -->
<path d="M100,462 Q104,452 105.700,443 Q107,430 111,422 Q122,398 136,388 Q142,384.500 148,386 Q158,390 165,396 Q152,420 150.900,443 Q140,470 130,508 H54 V462 Z" fill="url(#gBol)"/>
<path d="M107,444 Q108,430 112,422 Q123,399 137,389 Q143,386 149,387.500 Q134,398 123,420 Q117,434 115,454 Z" fill="#0812c0" filter="url(#b1)"/>

<!-- creases -->
<path d="M165,396 Q152,420 150.900,445 Q140,475 132,508" stroke="#010450" stroke-width="3.600" fill="none" filter="url(#b2)"/>
<path d="M150.900,448.300 Q190,452 229,455 Q270,455 298.800,448.300" stroke="#01055c" stroke-width="3.600" fill="none" filter="url(#b2)"/>
<path d="M312.700,393.700 Q306,420 298.800,448.300 Q292,480 288,508" stroke="#01055c" stroke-width="3.600" fill="none" filter="url(#b2)"/>
<path d="M213.500,394 L217,413.500 L257,415.200 L271,392" stroke="#01055c" stroke-width="3" fill="none" filter="url(#b2)"/>
<path d="M176,396.500 Q210,392 270,391 Q296,392 310,396" stroke="#0a18d0" stroke-width="3" fill="none" filter="url(#b2)"/>
<path d="M217,396 L219,411 L255,412.500 L266,394 Z" fill="#0410a8" filter="url(#b1)"/>
<!-- gap seat/console -->
<path d="M345.700,391 L350,394 V508 H330 L333.600,474.400 L342.300,439.600 Z" fill="#64646c"/>
<path d="M343,452 L349,446 V508 H341 Z" fill="#8e8e96"/>
<!-- passenger seat -->
<path d="M456,390 H640 L690,508 H454 Z" fill="#b0b0bc"/>
<!-- inner bolster / gap -->
<path d="M454,390 H482 Q486,420 496,440 L512,460 L522,508 H454 Z" fill="#b8b8c4"/>
<path d="M454,428 L466,434 L470,508 H454 Z" fill="#5c5c66"/>
<path d="M460,392 Q472,400 474,420 Q472,444 474,462" stroke="#d4d4dc" stroke-width="5" fill="none" filter="url(#b1)"/>
<path d="M470,460 Q479,451 487,460 L490,508 H469 Z" fill="#dadae2" stroke="#9a9aa4" stroke-width=".8"/>
<path d="M474,466 Q479,460 484,466 L486,508 H474 Z" fill="#c4c4ce"/>
<!-- center panel -->
<path d="M480,391 H634 Q644,420 650,450 L638,458 Q570,466 514,458 L496,440 Q486,418 480,391 Z" fill="#a2a2ae"/>
<path d="M480,391 Q486,418 496,440 L514,458 Q570,466 638,458 L650,450" stroke="#d2d2da" stroke-width="1.300" fill="none"/>
<!-- flap -->
<path d="M527,390 H584 L582,410 Q581,416 574,416 H540 Q534,416 532,410 Z" fill="#b2b2be" stroke="#d0d0d8" stroke-width="1"/>
<!-- front lower -->
<path d="M514,459 Q570,467 638,459 L660,508 H524 Z" fill="#b4b4c0"/>
<path d="M520,494 Q590,500 656,494" stroke="#d0d0d8" stroke-width="1.200" fill="none"/>
<path d="M512,458 Q518,480 524,508" stroke="#d0d0d8" stroke-width="1.200" fill="none"/>
<!-- right bolster -->
<path d="M622,390 H660 Q676,420 684,440 Q678,458 672,470 Q680,490 690,508 H658 Q640,450 622,390 Z" fill="url(#gBolR)"/>
<path d="M640,392 Q660,430 678,440 Q670,456 664,470 Q670,490 680,508" stroke="#f2f2f8" stroke-width="6" fill="none" filter="url(#b2)"/>
<path d="M660,392 Q676,420 684,440 Q678,458 672,470 Q680,490 690,508" stroke="#8a8a96" stroke-width="1" fill="none"/>
</g>
<g id="callouts" fill="none" stroke-linejoin="miter">
<g stroke="#fff" stroke-width="5.4">
<path d="M144.2,122 V163.5 L194.5,243.6"/>
<path d="M261.6,122 V223.3"/>
<path d="M377.5,122 V164 L301.2,243.8"/>
<path d="M530,122 V164 L396.5,246.5"/>
<path d="M656,122 V164 L513.7,316.7"/>
<path d="M94.2,446 V402 L167.2,325.1"/>
<path d="M370,472 H229.2"/>
<path d="M537.1,446 V404 L200,347.4"/>
<path d="M713.5,446 V403 L399.800,336.400"/>
</g>
<g stroke="#111" stroke-width="1.7">
<path d="M144.2,122 V163.5 L194.5,243.6"/>
<path d="M261.6,122 V223.3"/>
<path d="M377.5,122 V164 L301.2,243.8"/>
<path d="M530,122 V164 L396.5,246.5"/>
<path d="M656,122 V164 L513.7,316.7"/>
<path d="M94.2,446 V402 L167.2,325.1"/>
<path d="M370,472 H229.2"/>
<path d="M537.1,446 V404 L200,347.4"/>
<path d="M713.5,446 V403 L399.800,336.400"/>
</g>
<use href="#dot" x="194.5" y="243.6"/>
<use href="#dot" x="261.6" y="223.3"/>
<use href="#dot" x="301.2" y="243.8"/>
<use href="#dot" x="396.5" y="246.5"/>
<use href="#dot" x="513.7" y="316.7"/>
<use href="#dot" x="167.2" y="325.1"/>
<use href="#dot" x="229.2" y="472"/>
<use href="#dot" x="200" y="347.4"/>
<use href="#dot" x="399.800" y="336.400"/>
<use href="#hand" x="144.3" y="95"/>
<use href="#hand" x="262.5" y="95"/>
<use href="#hand" x="378" y="95"/>
<use href="#hand" x="530.8" y="95"/>
<use href="#hand" x="657" y="95"/>
<use href="#hand" x="95" y="472.6"/>
<use href="#hand" x="397" y="472.6"/>
<use href="#hand" x="537.1" y="472.6"/>
<use href="#hand" x="712.9" y="472.6"/>
</g>
</svg>
</div>
<div class="ltr" style="top:534px">A</div>
<div class="ln" id="l1" style="top:534px"><span style="left:126.0px;transform:scaleX(1.0381)">See</span> <b style="left:159.4px;transform:scaleX(1.1116)">Switching Cruise Control On and Off</b> <i style="left:472.9px;transform:scaleX(1.1196)">(page 239).</i> <span style="left:571.3px;transform:scaleX(1.0677)">See</span> <b style="left:605.1px;transform:scaleX(1.1668)">Switching</b></div>
<div class="ln" id="l2" style="top:551.3px"><b style="left:125.9px;transform:scaleX(1.1145)">Adaptive Cruise Control On and Off</b> <i style="left:431.7px;transform:scaleX(1.1399)">(page 244).</i></div>
<div class="ltr" style="top:577px">B</div>
<div class="ln" id="l3" style="top:577px"><span style="left:126.0px;transform:scaleX(1.0381)">See</span> <b style="left:159.4px;transform:scaleX(1.1353)">Instrument Cluster Overview</b> <i style="left:411.3px;transform:scaleX(1.1184)">(page 105).</i> <span style="left:507.6px;transform:scaleX(1.0529)">See</span> <b style="left:540.4px;transform:scaleX(1.1546)">Instrument Cluster</b></div>
<div class="ln" id="l4" style="top:594.8px"><b style="left:125.8px;transform:scaleX(1.1501)">Overview</b> <i style="left:210.5px;transform:scaleX(1.1247)">(page 106).</i></div>
<div class="ltr" style="top:621px">C</div>
<div class="ln" id="l5" style="top:621px"><span style="left:126.0px;transform:scaleX(1.0381)">See</span> <b style="left:159.3px;transform:scaleX(1.1223)">Using the Instrument Cluster Display Controls</b> <i style="left:556.7px;transform:scaleX(1.1196)">(page 108).</i></div>
<div class="ltr" style="top:645.8px">D</div>
<div class="ln" id="l6" style="top:645.8px"><span style="left:126.0px;transform:scaleX(1.0381)">See</span> <b style="left:159.3px;transform:scaleX(1.1202)">Center Display Overview</b> <i style="left:373.8px;transform:scaleX(1.1045)">(page 481).</i></div>
<div class="ltr" style="top:672px">E</div>
<div class="ln" id="l7" style="top:672px"><span style="left:126.0px;transform:scaleX(1.0381)">See</span> <b style="left:159.3px;transform:scaleX(1.1273)">Opening the Glove Compartment</b> <i style="left:445.0px;transform:scaleX(1.1171)">(page 146).</i></div>
<div class="ltr" style="top:697.5px">F</div>
<div class="ln" id="l8" style="top:697.5px"><span style="left:126.0px;transform:scaleX(1.0381)">See</span> <b style="left:159.3px;transform:scaleX(1.1449)">Identifying the Climate Control Unit</b> <i style="left:470.5px;transform:scaleX(1.0545)">(page 112).</i> <span style="left:560.8px;transform:scaleX(1.0529)">See</span> <b style="left:594.0px;transform:scaleX(1.1761)">Identifying the</b></div>
<div class="ln" id="l9" style="top:714.5px"><b style="left:125.7px;transform:scaleX(1.1446)">Climate Control Unit</b> <i style="left:307.1px;transform:scaleX(1.0327)">(page 117).</i></div>
<div class="ltr" style="top:740.8px">G</div>
<div class="ln" id="l10" style="top:740.8px"><span style="left:126.0px;transform:scaleX(1.0381)">See</span> <b style="left:159.3px;transform:scaleX(1.1127)">Applying the Electric Parking Brake</b> <i style="left:464.4px;transform:scaleX(1.1513)">(page 203).</i></div>
<div class="ltr" style="top:766.8px">H</div>
<div class="ln" id="l11" style="top:766.8px"><span style="left:126.0px;transform:scaleX(1.0381)">See</span> <b style="left:159.3px;transform:scaleX(1.1250)">Sitting in the Correct Position</b> <i style="left:417.1px;transform:scaleX(1.0678)">(page 122).</i></div>
<div class="ltr" style="top:791.8px">I</div>
<div class="ln" id="l12" style="top:791.8px"><span style="left:126.0px;transform:scaleX(1.0381)">See</span> <b style="left:159.3px;transform:scaleX(1.1165)">Exterior Lighting Control</b> <i style="left:374.5px;transform:scaleX(1.1734)">(page 89).</i></div>
</body>
</html>
